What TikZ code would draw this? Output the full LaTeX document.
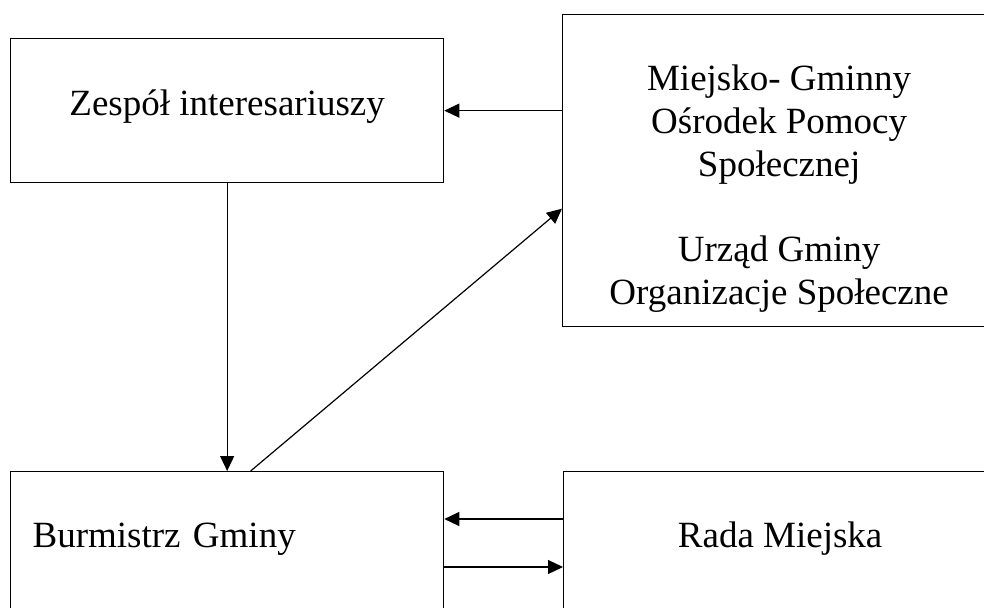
\documentclass[tikz,border=0pt]{standalone}
\usepackage{fontspec}
\setmainfont{Liberation Serif}
\usetikzlibrary{arrows.meta}

\begin{document}
\begin{tikzpicture}[x=1pt, y=-1pt,
  box/.style={draw, line width=1.3pt, inner xsep=0pt, inner ysep=0pt,
    minimum width=433pt, anchor=north west,
    font=\fontsize{37}{42.8}\selectfont},
  arr/.style={-{Triangle[length=15pt,width=14pt]}, line width=1.2pt}]
\useasboundingbox (0,0) rectangle (984,607);
\clip (0,0) rectangle (984,607);
% Top row
\node[box, text height=77pt, text depth=67pt] (zesp) at (10,38)
  {Zespół interesariuszy};
\node[box, align=center, text height=290pt, text depth=22pt] (mgops) at (562,14)
  {Miejsko- Gminny\\Ośrodek Pomocy\\Społecznej\\[42.8pt]Urząd Gminy\\Organizacje Społeczne};
% Bottom row
\node[box, text width=389pt, inner xsep=22pt, align=left,
      text height=76pt, text depth=150pt] (burm) at (10,471) {Burmistrz Gminy};
\node[box, text height=76pt, text depth=150pt] (rada) at (563,471) {Rada Miejska};
% Arrows
\draw[arr] (mgops.west |- zesp.east) -- (zesp.east);
\draw[arr] (zesp.south) -- (burm.north);
\draw[arr] ([xshift=23.5pt]burm.north) -- ([yshift=-38pt]mgops.west);
\draw[arr] ([yshift=-48pt]rada.north west) -- ([yshift=-48pt]burm.north east);
\draw[arr] ([yshift=-96pt]burm.north east) -- ([yshift=-96pt]rada.north west);
\end{tikzpicture}
\end{document}
